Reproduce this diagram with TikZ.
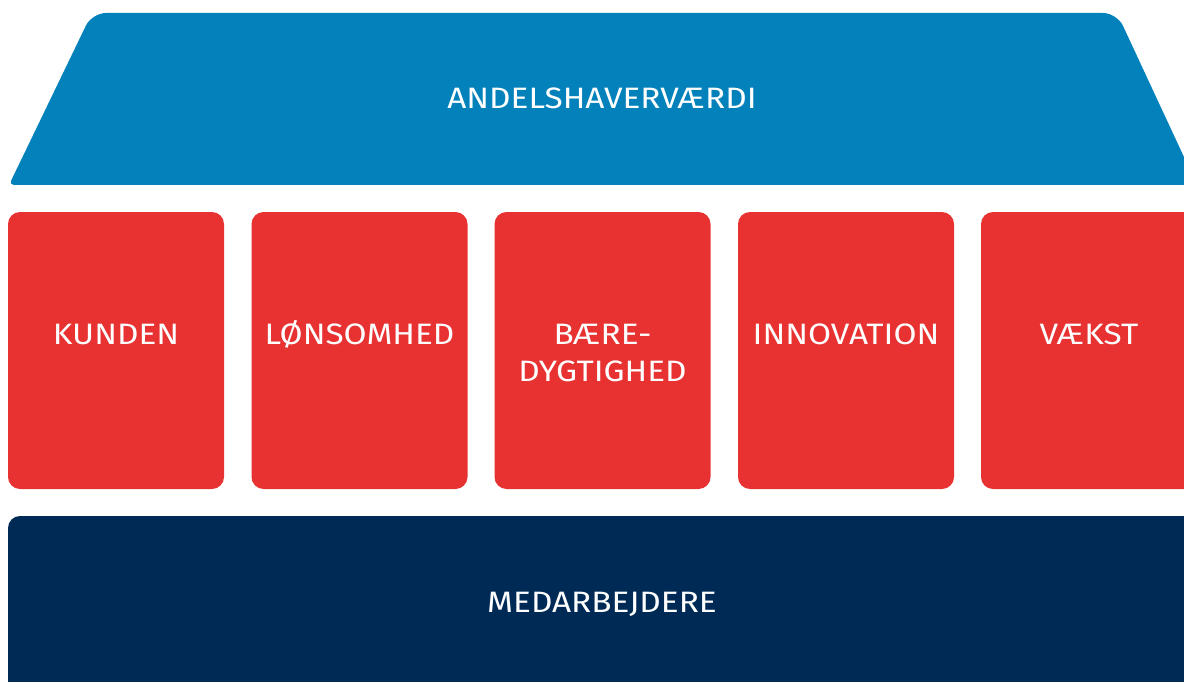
\documentclass[tikz,border=0pt]{standalone}
\usepackage{fontspec}
\setmainfont{Fira Sans}[FakeStretch=1.13]
\definecolor{topblue}{HTML}{0381BA}
\definecolor{pillarred}{HTML}{E83131}
\definecolor{basenavy}{HTML}{002A56}
\begin{document}
\begin{tikzpicture}[x=1pt,y=-1pt,
  pillar/.style={fill=pillarred,rounded corners=12pt,minimum width=216pt,minimum height=277pt,inner sep=0pt,draw=none},
  lbl/.style={text=white,font=\fontsize{29.5}{37}\selectfont,align=center,inner sep=0pt,anchor=base}]
\useasboundingbox (0,0) rectangle (1184,682);
\begin{scope}
\clip (0,0) rectangle (1184,682);
% roof
\fill[topblue,rounded corners=14pt] (600,185) {[rounded corners=5pt] -- (9,185)} -- (92,13) -- (1117,13) -- (1197,185) -- cycle;
\node[lbl] (roof) at (602,108.5) {ANDELSHAVERVÆRDI};
% pillars
\node[pillar] (p1) at (116,350.5) {};
\node[pillar] (p2) at (359.5,350.5) {};
\node[pillar] (p3) at (602.5,350.5) {};
\node[pillar] (p4) at (846,350.5) {};
\node[pillar] (p5) at (1089,350.5) {};
\node[lbl] (t1) at (116,344) {KUNDEN};
\node[lbl] (t2) at (359.5,344) {LØNSOMHED};
\node[lbl] (t3) at (602.5,381) {BÆRE-\\DYGTIGHED};
\node[lbl] (t4) at (846,344) {INNOVATION};
\node[lbl] (t5) at (1089,344) {VÆKST};
% base
\fill[basenavy,rounded corners=12pt] (8,516) rectangle (1210,700);
\node[lbl] (base) at (602,612.5) {MEDARBEJDERE};
\end{scope}
\end{tikzpicture}
\end{document}
